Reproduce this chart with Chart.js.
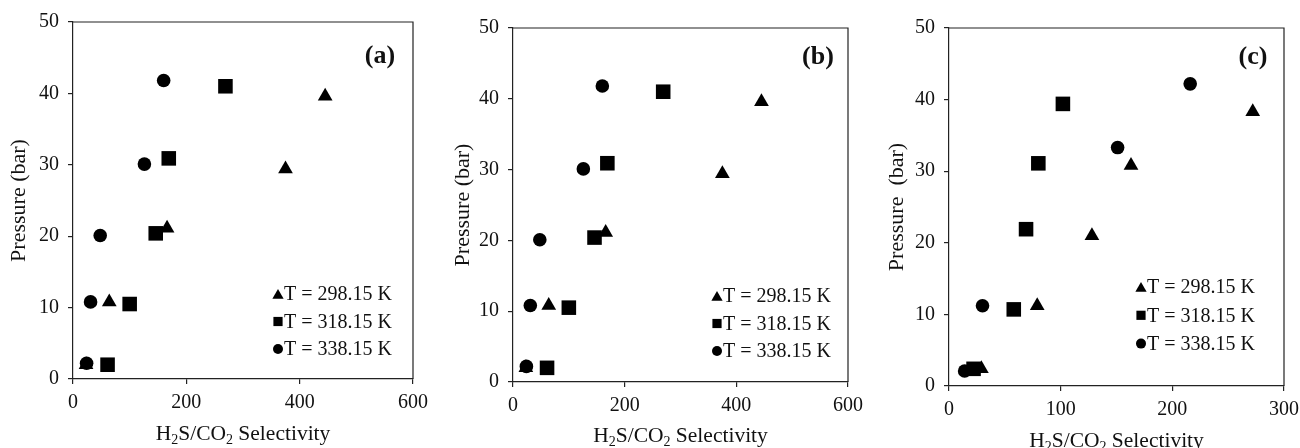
<!DOCTYPE html>
<html>
<head>
<meta charset="utf-8">
<script src="https://cdn.jsdelivr.net/npm/chart.js@4/dist/chart.umd.min.js"></script>
<style>
  html, body { margin: 0; padding: 0; background: #fff; }
  #wrap { position: relative; width: 1300px; height: 448px; overflow: hidden; }
  #wrap canvas { position: absolute; left: 0; top: 0; }
</style>
</head>
<body>
<div id="wrap">
  <canvas id="cA" width="1340" height="448"></canvas>
  <canvas id="cB" width="1340" height="448"></canvas>
  <canvas id="cC" width="1340" height="448"></canvas>
</div>
<script>
// Series labels
const seriesLabels = ['T = 298.15 K', 'T = 318.15 K', 'T = 338.15 K'];
const seriesStyles = ['triangle', 'rect', 'circle'];

// Panel (a): H2S/CO2 selectivity (x) vs pressure in bar (y)
const selA_298 = [23, 64, 166, 375, 445];
const presA_298 = [2.0, 10.8, 21.1, 29.4, 39.6];
const selA_318 = [61, 100, 146, 169, 269];
const presA_318 = [2.0, 10.5, 20.4, 30.9, 41.0];
const selA_338 = [24, 31, 48, 126, 160];
const presA_338 = [2.2, 10.8, 20.1, 30.1, 41.8];

// Panel (b)
const selB_298 = [23, 64, 166, 375, 445];
const presB_298 = [2.0, 10.8, 21.1, 29.4, 39.6];
const selB_318 = [61, 100, 146, 169, 269];
const presB_318 = [2.0, 10.5, 20.4, 30.9, 41.0];
const selB_338 = [24, 31, 48, 126, 160];
const presB_338 = [2.2, 10.8, 20.1, 30.1, 41.8];

// Panel (c)
const selC_298 = [29, 79, 128, 163, 272];
const presC_298 = [2.4, 11.2, 21.0, 30.8, 38.3];
const selC_318 = [22, 58, 69, 80, 102];
const presC_318 = [2.4, 10.7, 21.9, 31.1, 39.4];
const selC_338 = [14, 30, 151, 216];
const presC_338 = [2.1, 11.2, 33.3, 42.2];

// Axis ranges and ticks
const yTicks = [0, 10, 20, 30, 40, 50];
const xTicksAB = [0, 200, 400, 600];
const xTicksC = [0, 100, 200, 300];

const FONT = '"Liberation Serif", "Times New Roman", serif';
const INK = '#111';
const CANVAS_W = 1340, CANVAS_H = 448;

function pairs(xs, ys) { return xs.map((x, i) => ({ x: x, y: ys[i] })); }

// Axis titles (with chemical subscripts), frame, panel tag and legend
const decorPlugin = {
  id: 'decor',
  afterDraw(chart, args, o) {
    const ctx = chart.ctx;
    const a = chart.chartArea;
    ctx.save();
    // top and right frame lines
    ctx.strokeStyle = '#222';
    ctx.lineWidth = 1.2;
    ctx.beginPath();
    ctx.moveTo(a.left, a.top);
    ctx.lineTo(a.right, a.top);
    ctx.lineTo(a.right, a.bottom);
    ctx.stroke();

    ctx.fillStyle = INK;
    // y title
    ctx.save();
    ctx.translate(o.yTitleX, (a.top + a.bottom) / 2);
    ctx.rotate(-Math.PI / 2);
    ctx.font = '22px ' + FONT;
    ctx.textAlign = 'center';
    ctx.textBaseline = 'middle';
    ctx.fillText(o.yTitle, 0, 0);
    ctx.restore();

    // x title: H2S/CO2 Selectivity with subscripts
    const big = '21.5px ' + FONT, small = '14px ' + FONT;
    const parts = [['H', big, 0], ['2', small, 4], ['S/CO', big, 0], ['2', small, 4], [' Selectivity', big, 0]];
    let w = 0;
    parts.forEach(p => { ctx.font = p[1]; w += ctx.measureText(p[0]).width; });
    let x = (a.left + a.right) / 2 - w / 2;
    ctx.textAlign = 'left';
    ctx.textBaseline = 'alphabetic';
    parts.forEach(p => {
      ctx.font = p[1];
      ctx.fillText(p[0], x, o.xTitleY + p[2]);
      x += ctx.measureText(p[0]).width;
    });

    // panel tag
    ctx.font = 'bold 26px ' + FONT;
    ctx.textAlign = 'center';
    ctx.textBaseline = 'middle';
    ctx.fillText(o.tag, o.tagX, o.tagY);

    // legend
    ctx.font = '20px ' + FONT;
    ctx.textAlign = 'left';
    ctx.textBaseline = 'middle';
    const legR = { triangle: 6.5, rect: 6.5, circle: 5 };
    seriesLabels.forEach((lab, i) => {
      const yy = o.legY + i * o.legGap;
      const st = seriesStyles[i];
      ctx.fillStyle = '#000';
      Chart.helpers.drawPoint(ctx, { pointStyle: st, radius: legR[st], rotation: 0, borderWidth: 0 }, o.legX, yy + (st === 'triangle' ? 1.5 : 0));
      ctx.fillStyle = INK;
      ctx.fillText(lab, o.legX + 6, yy + 1);
    });
    ctx.restore();
  }
};

function makePanel(id, d, geom, xMax, xTicks, deco) {
  const yW = 60, xH = 40;
  const sizes = { triangle: 8.5, rect: 10.3, circle: 6.8 };
  new Chart(document.getElementById(id), {
    type: 'scatter',
    data: {
      datasets: d.map((s, i) => ({
        label: seriesLabels[i],
        data: s,
        pointStyle: seriesStyles[i],
        pointRadius: sizes[seriesStyles[i]],
        pointHoverRadius: sizes[seriesStyles[i]],
        backgroundColor: '#000',
        borderColor: '#000',
        borderWidth: 0,
        showLine: false
      }))
    },
    options: {
      responsive: false,
      animation: false,
      devicePixelRatio: 1,
      layout: {
        padding: {
          left: geom.left - yW,
          top: geom.top,
          right: CANVAS_W - geom.right,
          bottom: CANVAS_H - geom.bottom - xH
        }
      },
      plugins: {
        legend: { display: false },
        tooltip: { enabled: false },
        decor: deco
      },
      scales: {
        x: {
          type: 'linear',
          min: 0, max: xMax,
          afterFit(s) { s.height = xH; },
          afterBuildTicks(s) { s.ticks = xTicks.map(v => ({ value: v })); },
          grid: { drawOnChartArea: false, drawTicks: true, tickLength: 5, color: '#222', lineWidth: 1.2 },
          border: { display: true, color: '#222', width: 1.2 },
          ticks: { color: INK, font: { family: FONT, size: 20 }, padding: 7, maxRotation: 0 }
        },
        y: {
          type: 'linear',
          min: 0, max: 50,
          afterFit(s) { s.width = yW; },
          afterBuildTicks(s) { s.ticks = yTicks.map(v => ({ value: v })); },
          grid: { drawOnChartArea: false, drawTicks: true, tickLength: 5, color: '#222', lineWidth: 1.2 },
          border: { display: true, color: '#222', width: 1.2 },
          ticks: { color: INK, font: { family: FONT, size: 20 }, padding: 9 }
        }
      }
    },
    plugins: [decorPlugin]
  });
}

makePanel('cA',
  [pairs(selA_298, presA_298), pairs(selA_318, presA_318), pairs(selA_338, presA_338)],
  { left: 73, top: 22, right: 413, bottom: 379 }, 600, xTicksAB,
  { yTitle: 'Pressure (bar)', yTitleX: 19, xTitleY: 440, tag: '(a)', tagX: 380, tagY: 56, legX: 278, legY: 294, legGap: 27.5 });

makePanel('cB',
  [pairs(selB_298, presB_298), pairs(selB_318, presB_318), pairs(selB_338, presB_338)],
  { left: 513, top: 28, right: 848, bottom: 382 }, 600, xTicksAB,
  { yTitle: 'Pressure (bar)', yTitleX: 463, xTitleY: 442, tag: '(b)', tagX: 818, tagY: 57, legX: 717, legY: 296, legGap: 27.5 });

makePanel('cC',
  [pairs(selC_298, presC_298), pairs(selC_318, presC_318), pairs(selC_338, presC_338)],
  { left: 949, top: 28, right: 1284, bottom: 386 }, 300, xTicksC,
  { yTitle: 'Pressure  (bar)', yTitleX: 897, xTitleY: 447, tag: '(c)', tagX: 1253, tagY: 57, legX: 1141, legY: 287, legGap: 28.3 });
</script>
</body>
</html>
